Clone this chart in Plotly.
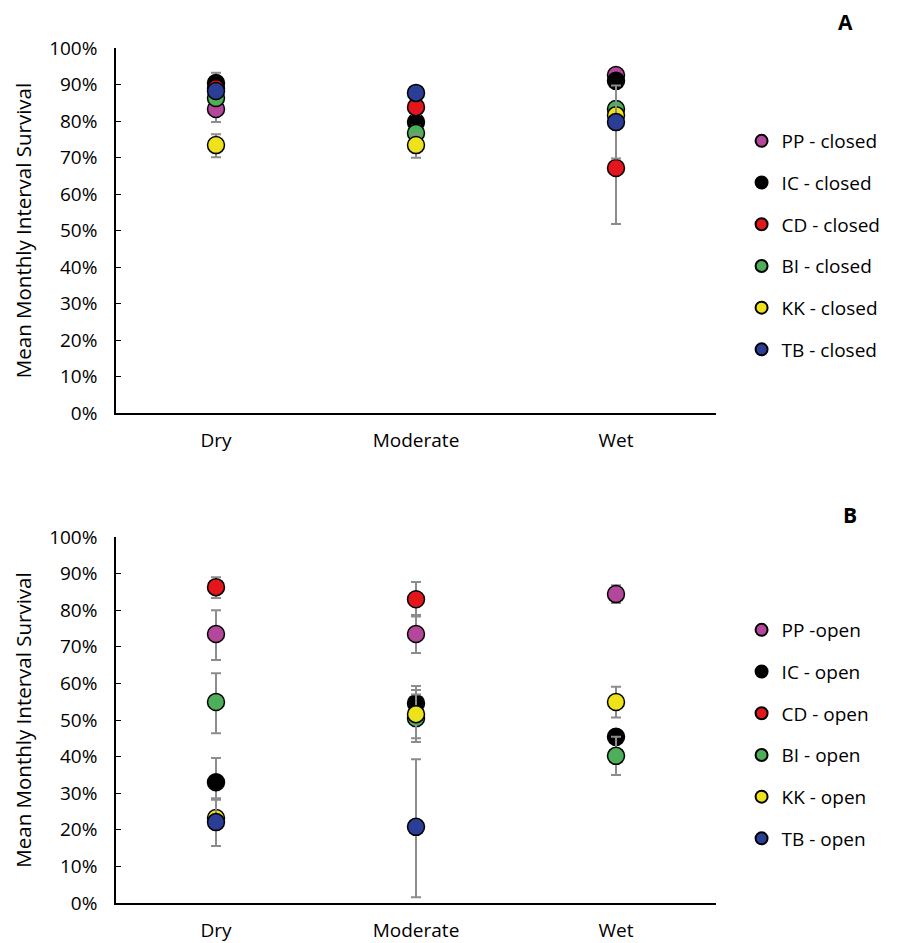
import plotly.graph_objects as go

# Moisture categories on the x axis
categories = ["Dry", "Moderate", "Wet"]
sites = ["PP", "IC", "CD", "BI", "KK", "TB"]
site_colors = ["#B4479B", "#000000", "#E4161C", "#4EAF5A", "#EEE21D", "#2B3E96"]

# Panel A: closed-canopy survival (fraction) and error bars (+ / -)
closed_mean = {
    "PP": [0.833, None, 0.926],
    "IC": [0.904, 0.797, 0.910],
    "CD": [0.890, 0.838, 0.671],
    "BI": [0.863, 0.767, 0.833],
    "KK": [0.734, 0.734, 0.816],
    "TB": [0.882, 0.877, 0.797],
}
closed_err_plus = {
    "PP": [0.036, None, 0.010],
    "IC": [0.028, 0.020, 0.015],
    "CD": [0.010, 0.020, 0.153],
    "BI": [0.020, 0.020, 0.020],
    "KK": [0.030, 0.030, 0.020],
    "TB": [0.010, 0.015, 0.100],
}
closed_err_minus = {
    "PP": [0.036, None, 0.010],
    "IC": [0.028, 0.020, 0.015],
    "CD": [0.010, 0.020, 0.153],
    "BI": [0.020, 0.020, 0.020],
    "KK": [0.033, 0.035, 0.020],
    "TB": [0.010, 0.015, 0.100],
}

# Panel B: open-canopy survival (fraction) and error bars (+ / -)
open_mean = {
    "PP": [0.735, 0.735, 0.844],
    "IC": [0.330, 0.546, 0.454],
    "CD": [0.863, 0.830, None],
    "BI": [0.549, 0.505, 0.402],
    "KK": [0.232, 0.516, 0.549],
    "TB": [0.221, 0.208, None],
}
open_err_plus = {
    "PP": [0.065, 0.052, 0.024],
    "IC": [0.066, 0.047, 0.010],
    "CD": [0.027, 0.047, None],
    "BI": [0.079, 0.065, 0.052],
    "KK": [0.010, 0.066, 0.042],
    "TB": [0.065, 0.185, None],
}
open_err_minus = {
    "PP": [0.071, 0.052, 0.024],
    "IC": [0.048, 0.047, 0.010],
    "CD": [0.030, 0.047, None],
    "BI": [0.085, 0.065, 0.052],
    "KK": [0.010, 0.066, 0.042],
    "TB": [0.065, 0.192, None],
}

closed_labels = ["PP - closed", "IC - closed", "CD - closed", "BI - closed", "KK - closed", "TB - closed"]
open_labels = ["PP -open", "IC - open", "CD - open", "BI - open", "KK - open", "TB - open"]

FONT = "Open Sans"
W, H = 898, 943
ML, MR, MT, MB = 116, 172, 48, 40
PW = W - ML - MR          # plotting-area width
PH = H - MT - MB          # plotting-area height


def py(pix):
    """Vertical page pixel -> paper fraction of the plotting area."""
    return (H - MB - pix) / PH


def px(pix):
    """Horizontal page pixel -> paper fraction of the plotting area."""
    return (pix - ML) / PW


fig = go.Figure()


def add_panel(means, eplus, eminus, labels, xaxis, yaxis, legend):
    for site, color, label in zip(sites, site_colors, labels):
        fig.add_trace(go.Scatter(
            x=categories,
            y=means[site],
            mode="markers",
            name=label,
            legendgroup=legend + site,
            legend=legend,
            xaxis=xaxis,
            yaxis=yaxis,
            marker=dict(size=17, color=color, line=dict(color="#000000", width=1.5)),
            error_y=dict(
                type="data",
                symmetric=False,
                array=[v if v is not None else 0 for v in eplus[site]],
                arrayminus=[v if v is not None else 0 for v in eminus[site]],
                color="#8C8C8C",
                thickness=2,
                width=5,
            ),
            cliponaxis=False,
        ))


add_panel(closed_mean, closed_err_plus, closed_err_minus, closed_labels, "x", "y", "legend")
add_panel(open_mean, open_err_plus, open_err_minus, open_labels, "x2", "y2", "legend2")

axis_font = dict(family=FONT, size=19, color="#000000")

xaxis_common = dict(
    type="category",
    categoryorder="array",
    categoryarray=categories,
    range=[-0.5, 2.5],
    showline=True,
    linecolor="#000000",
    linewidth=1.5,
    ticks="",
    showgrid=False,
    zeroline=False,
    tickfont=axis_font,
    ticklabelstandoff=9,
    domain=[0, 1],
    automargin=False,
    fixedrange=True,
)
yaxis_common = dict(
    range=[0, 1],
    dtick=0.1,
    tickformat=".0%",
    showline=True,
    linecolor="#000000",
    linewidth=1.5,
    ticks="inside",
    ticklen=5,
    tickcolor="#000000",
    showgrid=False,
    zeroline=False,
    tickfont=axis_font,
    ticklabelstandoff=13,
    automargin=False,
    title=dict(text="Mean Monthly Interval Survival",
               font=dict(family=FONT, size=20.5, color="#000000"), standoff=12),
)

legend_common = dict(
    font=dict(family=FONT, size=19, color="#000000"),
    itemsizing="constant",
    tracegroupgap=14,
    bgcolor="rgba(0,0,0,0)",
    xanchor="left",
    yanchor="top",
    itemwidth=30,
)

fig.update_layout(
    width=W,
    height=H,
    margin=dict(l=ML, r=MR, t=MT, b=MB),
    paper_bgcolor="#FFFFFF",
    plot_bgcolor="#FFFFFF",
    xaxis=dict(anchor="y", **xaxis_common),
    yaxis=dict(anchor="x", domain=[py(413), py(48)], **yaxis_common),
    xaxis2=dict(anchor="y2", **xaxis_common),
    yaxis2=dict(anchor="x2", domain=[py(903), py(537)], **yaxis_common),
    legend=dict(x=px(752), y=py(122), **legend_common),
    legend2=dict(x=px(752), y=py(611), **legend_common),
    annotations=[
        dict(text="<b>A</b>", x=px(858), y=py(22), xref="paper", yref="paper",
             xanchor="center", yanchor="middle",
             showarrow=False, font=dict(family=FONT, size=21, color="#000000")),
        dict(text="<b>B</b>", x=px(862), y=py(515), xref="paper", yref="paper",
             xanchor="center", yanchor="middle",
             showarrow=False, font=dict(family=FONT, size=21, color="#000000")),
    ],
    showlegend=True,
)

fig.write_html("out.html")
